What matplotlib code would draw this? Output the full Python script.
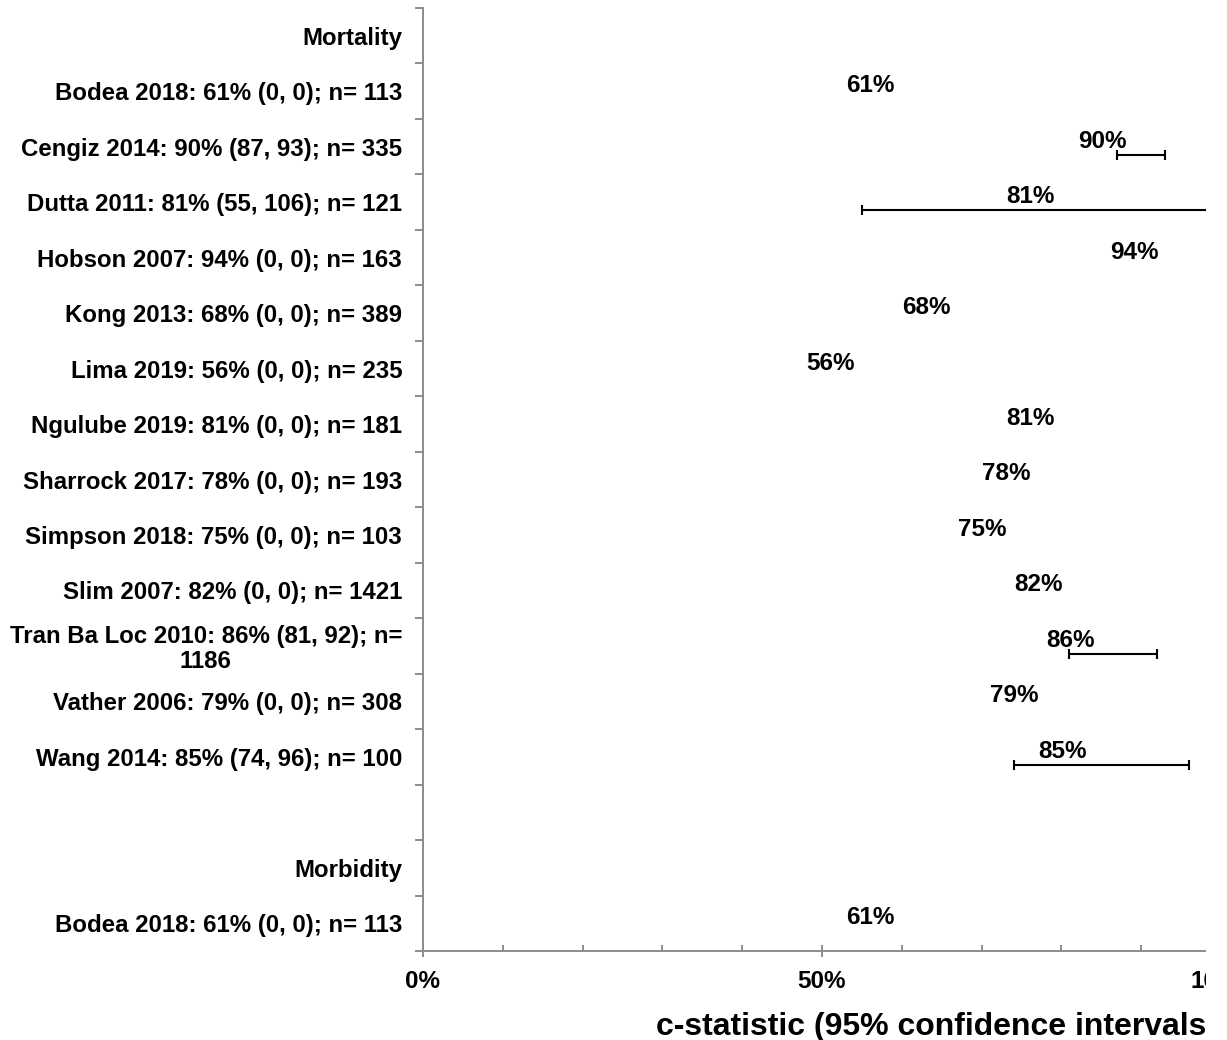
import matplotlib
matplotlib.use("Agg")
import matplotlib.pyplot as plt
import numpy as np
from matplotlib.patches import Rectangle
from matplotlib.ticker import MultipleLocator, FixedLocator

plt.rcParams['font.family'] = ['Liberation Sans', 'DejaVu Sans']
plt.rcParams['font.weight'] = 'bold'

# ---- data ----
row_labels = [
    'Mortality',
    'Bodea 2018: 61% (0, 0); n= 113',
    'Cengiz 2014: 90% (87, 93); n= 335',
    'Dutta 2011: 81% (55, 106); n= 121',
    'Hobson 2007: 94% (0, 0); n= 163',
    'Kong 2013: 68% (0, 0); n= 389',
    'Lima 2019: 56% (0, 0); n= 235',
    'Ngulube 2019: 81% (0, 0); n= 181',
    'Sharrock 2017: 78% (0, 0); n= 193',
    'Simpson 2018: 75% (0, 0); n= 103',
    'Slim 2007: 82% (0, 0); n= 1421',
    'Tran Ba Loc 2010: 86% (81, 92); n=\n1186',
    'Vather 2006: 79% (0, 0); n= 308',
    'Wang 2014: 85% (74, 96); n= 100',
    '',
    'Morbidity',
    'Bodea 2018: 61% (0, 0); n= 113',
]
# c-statistic per row (None = header / blank row)
cstat = [None, 61, 90, 81, 94, 68, 56, 81, 78, 75, 82, 86, 79, 85, None, None, 61]
ci_low = [None, 0, 87, 55, 0, 0, 0, 0, 0, 0, 0, 81, 0, 74, None, None, 0]
ci_high = [None, 0, 93, 106, 0, 0, 0, 0, 0, 0, 0, 92, 0, 96, None, None, 0]

W, H = 1227, 1040
fig = plt.figure(figsize=(W / 100, H / 100), dpi=100)
ax = fig.add_axes([423 / W, 1 - 951 / H, (1221 - 423) / W, (951 - 8) / H])

n = len(row_labels)
rows = np.arange(n)
grey = '#8c8c8c'

# confidence intervals (only where reported)
for r, v, lo, hi in zip(rows, cstat, ci_low, ci_high):
    if v is None:
        continue
    if lo or hi:
        ax.errorbar(v, r + 0.15, xerr=[[v - lo], [hi - v]], fmt='none',
                    ecolor='black', elinewidth=1.5, capsize=3.6, capthick=1.5)
    ax.annotate(f'{v}%', xy=(v, r), xytext=(-39, -6), textcoords='offset pixels',
                ha='center', va='bottom', fontsize=17.5, fontweight='bold')

ax.set_xlim(0, 100)
ax.set_ylim(n - 0.5, -0.5)

# axes styling
for s in ['top', 'right']:
    ax.spines[s].set_visible(False)
for s in ['left', 'bottom']:
    ax.spines[s].set_color(grey)
    ax.spines[s].set_linewidth(1.4)

ax.xaxis.set_minor_locator(MultipleLocator(10))
ax.set_xticks([0, 50, 100])
ax.set_xticklabels(['0%', '50%', '100%'], fontsize=17.5, fontweight='bold')
ax.tick_params(axis='x', which='major', direction='inout', length=9, width=1.4,
               color=grey, pad=9)
ax.tick_params(axis='x', which='minor', direction='in', length=4, width=1.4, color=grey)

ax.yaxis.set_major_locator(FixedLocator(rows))
ax.set_yticklabels(row_labels, fontsize=17.3, fontweight='bold')
ax.yaxis.set_minor_locator(FixedLocator(np.arange(n + 1) - 0.5))
ax.tick_params(axis='y', which='major', length=0, pad=15)
ax.tick_params(axis='y', which='minor', direction='out', length=6, width=1.4, color=grey)
for t in ax.get_yticklabels():
    t.set_multialignment('center')
    t.set_linespacing(1.1)

fig.text(656 / W, 1 - 1035 / H, 'c-statistic (95% confidence intervals)',
         fontsize=23, fontweight='bold', ha='left', va='baseline')

# the reference is cut off on the right
fig.add_artist(Rectangle((1206 / W, 0), 1, 1, transform=fig.transFigure,
                         facecolor='white', edgecolor='none', zorder=20))

fig.savefig('out.png', dpi=100)
